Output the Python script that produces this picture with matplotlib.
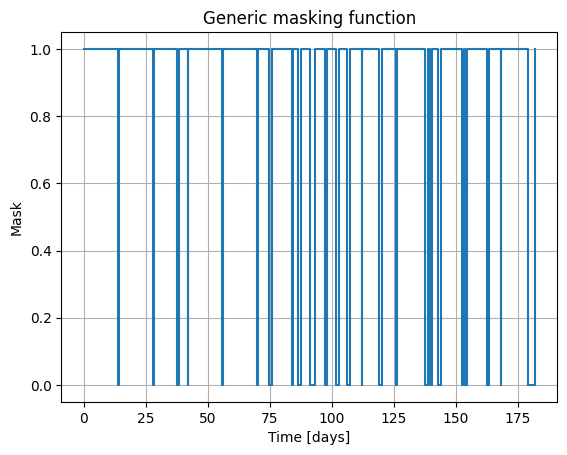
import numpy as np
import matplotlib
matplotlib.use("Agg")
import matplotlib.pyplot as plt

# masked (zero) intervals in days
dip_start = [13.9, 27.9, 37.6, 42.0, 55.9, 69.9, 74.6, 84.0, 86.5, 91.1,
             97.2, 101.6, 106.3, 112.0, 119.2, 126.0, 137.7, 139.6, 142.9,
             152.6, 153.8, 162.4, 168.1, 179.0]
dip_end = [14.1, 28.1, 38.4, 42.2, 56.1, 70.2, 75.7, 84.2, 87.5, 93.3,
           98.2, 102.7, 107.4, 112.2, 120.3, 126.2, 138.7, 140.3, 144.1,
           153.3, 154.5, 163.5, 168.3, 181.8]
t_start = 0.0
t_end = 181.8

# build the step curve from the intervals
t = [t_start]
mask = [1.0]
for s, e in zip(dip_start, dip_end):
    t += [s, s, e, e]
    mask += [1.0, 0.0, 0.0, 1.0]
if t[-1] < t_end:
    t.append(t_end)
    mask.append(1.0)

fig, ax = plt.subplots(figsize=(6.4, 4.8))
ax.plot(t, mask)
ax.set_title("Generic masking function")
ax.set_xlabel("Time [days]")
ax.set_ylabel("Mask")
ax.grid(True)
fig.savefig("out.png", bbox_inches="tight")
